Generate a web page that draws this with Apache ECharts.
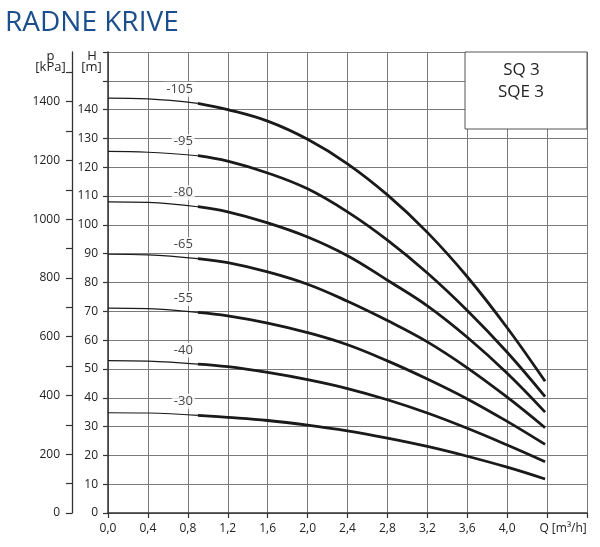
<!DOCTYPE html>
<html>
<head>
<meta charset="utf-8">
<script src="https://cdn.jsdelivr.net/npm/echarts@6/dist/echarts.min.js"></script>
<style>html,body{margin:0;padding:0;background:#fff}#c{width:600px;height:547px}</style>
</head>
<body>
<div id="c"></div>
<script>
// ---- data ----
const flowQ = [0, 0.4, 0.9, 1.2, 1.6, 2.0, 2.4, 2.8, 3.2, 3.6, 4.0, 4.38];
const curveNames = ['-105', '-95', '-80', '-65', '-55', '-40', '-30'];
const h105 = [144, 143.7, 142.2, 140, 136, 129.7, 121.2, 110.4, 97.4, 82, 64.3, 45.7];
const h95  = [125.5, 125.2, 124, 122.1, 118, 112.5, 104.5, 94.7, 83.3, 70.3, 55.8, 40.4];
const h80  = [108, 107.8, 106.3, 104.5, 100.7, 95.8, 89.3, 80.8, 71.9, 61, 48.5, 35.0];
const h65  = [89.8, 89.6, 88.3, 86.9, 83.7, 79.4, 73.5, 66.8, 59.4, 50.4, 40.2, 29.6];
const h55  = [71.1, 70.9, 69.6, 68.4, 65.9, 62.6, 58.4, 52.8, 46.5, 39.6, 31.8, 23.8];
const h40  = [52.9, 52.7, 51.7, 50.8, 48.8, 46.3, 43.2, 39.3, 34.7, 29.4, 23.6, 17.8];
const h30  = [34.8, 34.7, 33.9, 33.2, 32.1, 30.5, 28.5, 26.0, 23.1, 19.7, 15.9, 11.8];
const curves = [h105, h95, h80, h65, h55, h40, h30];
const thinEndIndex = 2; // thin segment from Q=0 to Q=0.9

const xTickValues  = [0, 0.4, 0.8, 1.2, 1.6, 2.0, 2.4, 2.8, 3.2, 3.6, 4.0, 4.4, 4.8];
const xLabelValues = [0, 0.4, 0.8, 1.2, 1.6, 2.0, 2.4, 2.8, 3.2, 3.6, 4.0, 4.4];
const hTickValues  = [0, 10, 20, 30, 40, 50, 60, 70, 80, 90, 100, 110, 120, 130, 140, 150, 160];
const hLabelValues = [0, 10, 20, 30, 40, 50, 60, 70, 80, 90, 100, 110, 120, 130, 140];
const pTickValues  = [0, 100, 200, 300, 400, 500, 600, 700, 800, 900, 1000, 1100, 1200, 1300, 1400, 1500];
const pLabelValues = [0, 200, 400, 600, 800, 1000, 1200, 1400];
const kPaPerMeter = 9.80665;
const hMax = 160;

// ---- chart ----
const FONT = 'Open Sans';
const chart = echarts.init(document.getElementById('c'), null, {renderer: 'canvas'});

const series = [];
curves.forEach(function (h, i) {
  const pts = flowQ.map(function (q, k) { return [q, h[k]]; });
  series.push({
    type: 'line', name: curveNames[i] + ' thin', xAxisIndex: 0, yAxisIndex: 0,
    data: pts.slice(0, thinEndIndex + 1), smooth: 0.4, showSymbol: false, silent: true,
    lineStyle: {color: '#1a1a1a', width: 1.2}, z: 5
  });
  series.push({
    type: 'line', name: curveNames[i], xAxisIndex: 0, yAxisIndex: 0,
    data: pts.slice(thinEndIndex), smooth: 0.4, showSymbol: false, silent: true,
    lineStyle: {color: '#1a1a1a', width: 2.8}, z: 5
  });
});
series.push({
  type: 'scatter', xAxisIndex: 0, yAxisIndex: 0, symbolSize: 0, silent: true, z: 6,
  data: curves.map(function (h, i) { return {value: [flowQ[thinEndIndex], h[thinEndIndex]], name: curveNames[i]}; }),
  label: {
    show: true, position: 'left', distance: 3, offset: [0, -14],
    formatter: function (p) { return p.name; },
    fontFamily: FONT, fontSize: 13, color: '#111',
    backgroundColor: '#fff', padding: [1, 2]
  }
});

const axisColor = '#333';
const gridColor = '#7a7a7a';

chart.setOption({
  animation: false,
  backgroundColor: '#fff',
  grid: {left: 108, right: 13, top: 52, bottom: 34},
  xAxis: {
    type: 'value', min: 0, max: 4.8, interval: 0.4,
    axisLine: {show: true, lineStyle: {color: axisColor, width: 1.5}},
    axisTick: {show: true, length: 5, customValues: xTickValues, lineStyle: {color: axisColor, width: 1.2}},
    axisLabel: {
      customValues: xLabelValues, margin: 10, fontFamily: FONT, fontSize: 12, color: '#222',
      formatter: function (v) {
        if (Math.abs(v - 4.4) < 1e-6) return '{q|Q [m³/h]}';
        return v.toFixed(1).replace('.', ',');
      },
      rich: {q: {fontFamily: FONT, fontSize: 12, color: '#222', padding: [0, 0, 0, 32]}}
    },
    splitLine: {show: true, lineStyle: {color: gridColor, width: 1}}
  },
  yAxis: [{
    type: 'value', min: 0, max: hMax, interval: 10, position: 'left',
    axisLine: {show: true, lineStyle: {color: axisColor, width: 1.5}},
    axisTick: {show: true, length: 5, customValues: hTickValues, lineStyle: {color: axisColor, width: 1.2}},
    axisLabel: {customValues: hLabelValues, margin: 10, fontFamily: FONT, fontSize: 12, color: '#222',
      formatter: function (v) { return String(v); }},
    splitLine: {show: true, lineStyle: {color: gridColor, width: 1}}
  }, {
    type: 'value', min: 0, max: hMax * kPaPerMeter, position: 'left', offset: 36,
    axisLine: {show: true, lineStyle: {color: axisColor, width: 1.3}},
    axisTick: {show: true, length: 6, customValues: pTickValues, lineStyle: {color: axisColor, width: 1.2}},
    axisLabel: {customValues: pLabelValues, margin: 12, fontFamily: FONT, fontSize: 12, color: '#222',
      formatter: function (v) { return String(Math.round(v)); }},
    splitLine: {show: false}
  }],
  series: series,
  graphic: [
    {type: 'text', z: 100, left: 5, top: 9, style: {text: 'RADNE KRIVE', font: '28px "Open Sans"', fill: '#1b4e8c'}},
    {type: 'text', z: 100, x: 50.5, y: 56, style: {text: 'p', font: '13px "Open Sans"', fill: '#222', align: 'center', verticalAlign: 'middle'}},
    {type: 'text', z: 100, x: 50.5, y: 67, style: {text: '[kPa]', font: '13px "Open Sans"', fill: '#222', align: 'center', verticalAlign: 'middle'}},
    {type: 'text', z: 100, x: 92, y: 56, style: {text: 'H', font: '13px "Open Sans"', fill: '#222', align: 'center', verticalAlign: 'middle'}},
    {type: 'text', z: 100, x: 91.5, y: 67, style: {text: '[m]', font: '13px "Open Sans"', fill: '#222', align: 'center', verticalAlign: 'middle'}},
    {type: 'rect', z: 100, shape: {x: 465, y: 52, width: 122, height: 77}, style: {fill: '#fff', stroke: '#555', lineWidth: 1}},
    {type: 'text', z: 101, x: 521.5, y: 70, style: {text: 'SQ 3', font: '17px "Open Sans"', fill: '#222', align: 'center', verticalAlign: 'middle'}},
    {type: 'text', z: 101, x: 521, y: 92, style: {text: 'SQE 3', font: '17px "Open Sans"', fill: '#222', align: 'center', verticalAlign: 'middle'}}
  ]
});
</script>
</body>
</html>
